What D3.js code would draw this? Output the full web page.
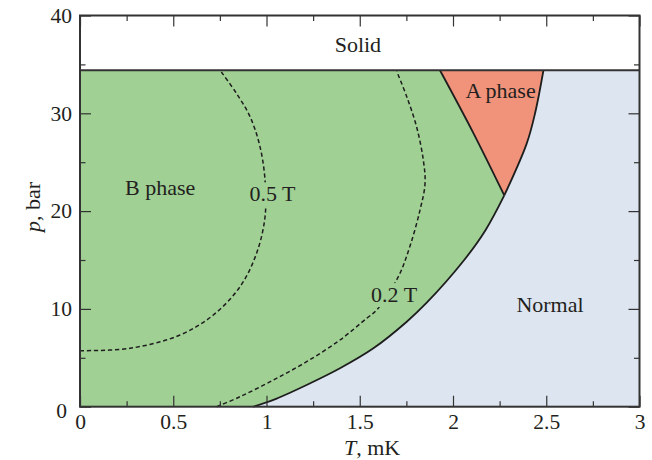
<!DOCTYPE html>
<html>
<head>
<meta charset="utf-8">
<script src="https://cdn.jsdelivr.net/npm/d3@7"></script>
<style>
  html, body { margin: 0; padding: 0; background: #fff; }
  svg { display: block; }
  text { font-family: "Liberation Serif", "Times New Roman", Times, serif; fill: #231f20; }
</style>
</head>
<body>
<svg id="chart" width="652" height="460"></svg>
<script>
// Phase diagram of superfluid helium-3: pressure (bar) vs temperature (mK)

// Superfluid transition line Tc(p), from 0 bar up to the melting pressure
const tcPressure = [0, 0.69, 2.22, 3.93, 5.97, 8.69, 10.63, 15.0, 18.07, 21.6, 26.9, 30.0, 34.4];
const tcTemp     = [0.929, 1.037, 1.215, 1.394, 1.573, 1.752, 1.859, 2.06, 2.175, 2.275, 2.395, 2.44, 2.485];
const pcpIndex = 9; // polycritical point on the Tc line

// A–B transition line, from the polycritical point up to the melting pressure
const abPressure = [21.6, 27.95, 34.4];
const abTemp     = [2.275, 2.11, 1.93];

// Melting pressure (solid above)
const meltingPressure = 34.4;

// A–B transition in applied magnetic field, 0.5 T
const b05Pressure = [5.73, 5.97, 7.33, 9.38, 12.27, 15.7, 19.4, 23.2, 26.6, 29.65, 32.0, 34.3];
const b05Temp     = [0, 0.268, 0.536, 0.715, 0.858, 0.947, 0.992, 0.992, 0.965, 0.912, 0.840, 0.755];

// A–B transition in applied magnetic field, 0.2 T
const b02Pressure = [0, 1.02, 2.73, 4.6, 6.82, 9.04, 9.89, 13.3, 16.4, 20.1, 22.8, 25.2, 28.6, 31.7, 34.3];
const b02Temp     = [0.733, 0.858, 1.037, 1.215, 1.394, 1.537, 1.591, 1.707, 1.769, 1.823, 1.850, 1.841, 1.805, 1.752, 1.698];

// Axis ticks
const xMajor = [0, 0.5, 1, 1.5, 2, 2.5, 3];
const xMajorLabels = ["0", "0.5", "1", "1.5", "2", "2.5", "3"];
const xMinor = [0.25, 0.75, 1.25, 1.75, 2.25, 2.75];
const yMajor = [0, 10, 20, 30, 40];
const yMajorLabels = ["0", "10", "20", "30", "40"];
const yMinor = [5, 15, 25, 35];

// Region labels
const regionLabels = [
  { text: "Solid",   T: 1.49,  p: 36.3 },
  { text: "B phase", T: 0.43,  p: 21.6 },
  { text: "A phase", T: 2.255, p: 31.6 },
  { text: "Normal",  T: 2.52,  p: 9.7 }
];
const fieldLabels = [
  { text: "0.5 T", T: 1.032, p: 21.0 },
  { text: "0.2 T", T: 1.684, p: 10.7 }
];

const colors = {
  normal: "#dce5f0",
  bPhase: "#a0d094",
  aPhase: "#f0937a",
  ink: "#1e1e1e",
  frame: "#333333"
};
const labelSize = 22;
const tickSize = 21.5;

const svg = d3.select("#chart");
const x = d3.scaleLinear().domain([0, 3]).range([80, 639.5]);
const y = d3.scaleLinear().domain([0, 40]).range([406.7, 15.5]);

const toPts = (T, P) => T.map((t, i) => ({ T: t, p: P[i] }));
const tc = toPts(tcTemp, tcPressure);
const tcLower = tc.slice(0, pcpIndex + 1);
const tcUpper = tc.slice(pcpIndex);
const ab = toPts(abTemp, abPressure);

const curve = d3.line().x(d => x(d.T)).y(d => y(d.p)).curve(d3.curveCatmullRom.alpha(0.5));
const asL = s => "L" + s.slice(1);

// Normal liquid fills everything below the melting line
svg.append("rect")
  .attr("x", x(0)).attr("y", y(meltingPressure))
  .attr("width", x(3) - x(0)).attr("height", y(0) - y(meltingPressure))
  .attr("fill", colors.normal);

// B phase
const pathB = `M${x(0)},${y(0)}` + asL(curve(tcLower)) + asL(curve(ab)) +
  `L${x(0)},${y(meltingPressure)}Z`;
svg.append("path").attr("d", pathB).attr("fill", colors.bPhase);

// A phase
const pathA = curve(ab) + asL(curve(tcUpper.slice().reverse())) + "Z";
svg.append("path").attr("d", pathA).attr("fill", colors.aPhase);

// Field-dependent A–B lines (dashed)
[toPts(b05Temp, b05Pressure), toPts(b02Temp, b02Pressure)].forEach(pts => {
  svg.append("path").attr("d", curve(pts))
    .attr("fill", "none").attr("stroke", colors.ink)
    .attr("stroke-width", 1.5).attr("stroke-dasharray", "4.2,2.8");
});

// Phase boundaries
[tcLower, tcUpper, ab].forEach(pts => {
  svg.append("path").attr("d", curve(pts))
    .attr("fill", "none").attr("stroke", colors.ink).attr("stroke-width", 1.8);
});
svg.append("line")
  .attr("x1", x(0)).attr("x2", x(3))
  .attr("y1", y(meltingPressure)).attr("y2", y(meltingPressure))
  .attr("stroke", colors.frame).attr("stroke-width", 2);

// Axes: major and minor ticks, pointing inward on all four sides
const styleAxis = g => {
  g.select(".domain").remove();
  g.selectAll(".tick line").attr("stroke", colors.frame).attr("stroke-width", 1.2);
  g.selectAll(".tick text")
    .attr("font-family", '"Liberation Serif", "Times New Roman", serif')
    .attr("font-size", tickSize).attr("fill", "#231f20");
};

svg.append("g").attr("transform", `translate(0,${y(0)})`)
  .call(d3.axisBottom(x).tickValues(xMajor).tickSize(-11).tickPadding(7)
    .tickFormat((d, i) => xMajorLabels[i]))
  .call(styleAxis);
svg.append("g").attr("transform", `translate(0,${y(0)})`)
  .call(d3.axisBottom(x).tickValues(xMinor).tickSize(-5.5).tickFormat(""))
  .call(styleAxis);
svg.append("g").attr("transform", `translate(0,${y(40)})`)
  .call(d3.axisTop(x).tickValues(xMajor).tickSize(-11).tickFormat(""))
  .call(styleAxis);
svg.append("g").attr("transform", `translate(0,${y(40)})`)
  .call(d3.axisTop(x).tickValues(xMinor).tickSize(-5.5).tickFormat(""))
  .call(styleAxis);

const yAxisG = svg.append("g").attr("transform", `translate(${x(0)},0)`)
  .call(d3.axisLeft(y).tickValues(yMajor).tickSize(-11).tickPadding(8)
    .tickFormat((d, i) => yMajorLabels[i]))
  .call(styleAxis);
// keep the "0" on the pressure axis clear of the temperature axis "0"
yAxisG.selectAll(".tick").filter(d => d === 0).select("text")
  .attr("transform", "translate(-5,4)");
svg.append("g").attr("transform", `translate(${x(0)},0)`)
  .call(d3.axisLeft(y).tickValues(yMinor).tickSize(-5.5).tickFormat(""))
  .call(styleAxis);
svg.append("g").attr("transform", `translate(${x(3)},0)`)
  .call(d3.axisRight(y).tickValues(yMajor).tickSize(-11).tickFormat(""))
  .call(styleAxis);
svg.append("g").attr("transform", `translate(${x(3)},0)`)
  .call(d3.axisRight(y).tickValues(yMinor).tickSize(-5.5).tickFormat(""))
  .call(styleAxis);

// Frame
svg.append("rect")
  .attr("x", x(0)).attr("y", y(40))
  .attr("width", x(3) - x(0)).attr("height", y(0) - y(40))
  .attr("fill", "none").attr("stroke", colors.frame).attr("stroke-width", 2);

// Axis titles
const xTitle = svg.append("text")
  .attr("x", 372).attr("y", 455).attr("text-anchor", "middle").attr("font-size", labelSize);
xTitle.append("tspan").attr("font-style", "italic").text("T");
xTitle.append("tspan").text(", mK");

const yTitle = svg.append("text")
  .attr("transform", "translate(40,207) rotate(-90)")
  .attr("text-anchor", "middle").attr("font-size", labelSize);
yTitle.append("tspan").attr("font-style", "italic").text("p");
yTitle.append("tspan").text(", bar");

// Region labels
regionLabels.forEach(l => {
  svg.append("text")
    .attr("x", x(l.T)).attr("y", y(l.p))
    .attr("text-anchor", "middle").attr("font-size", labelSize)
    .text(l.text);
});

// Field labels sit on their dashed curves, with the curve broken behind them
fieldLabels.forEach(l => {
  const g = svg.append("g");
  const bg = g.append("rect").attr("fill", colors.bPhase);
  const t = g.append("text")
    .attr("x", x(l.T)).attr("y", y(l.p))
    .attr("text-anchor", "middle").attr("font-size", labelSize)
    .text(l.text);
  const bb = t.node().getBBox();
  bg.attr("x", bb.x - 1).attr("y", bb.y + 1)
    .attr("width", bb.width + 2).attr("height", bb.height - 1);
});
</script>
</body>
</html>
